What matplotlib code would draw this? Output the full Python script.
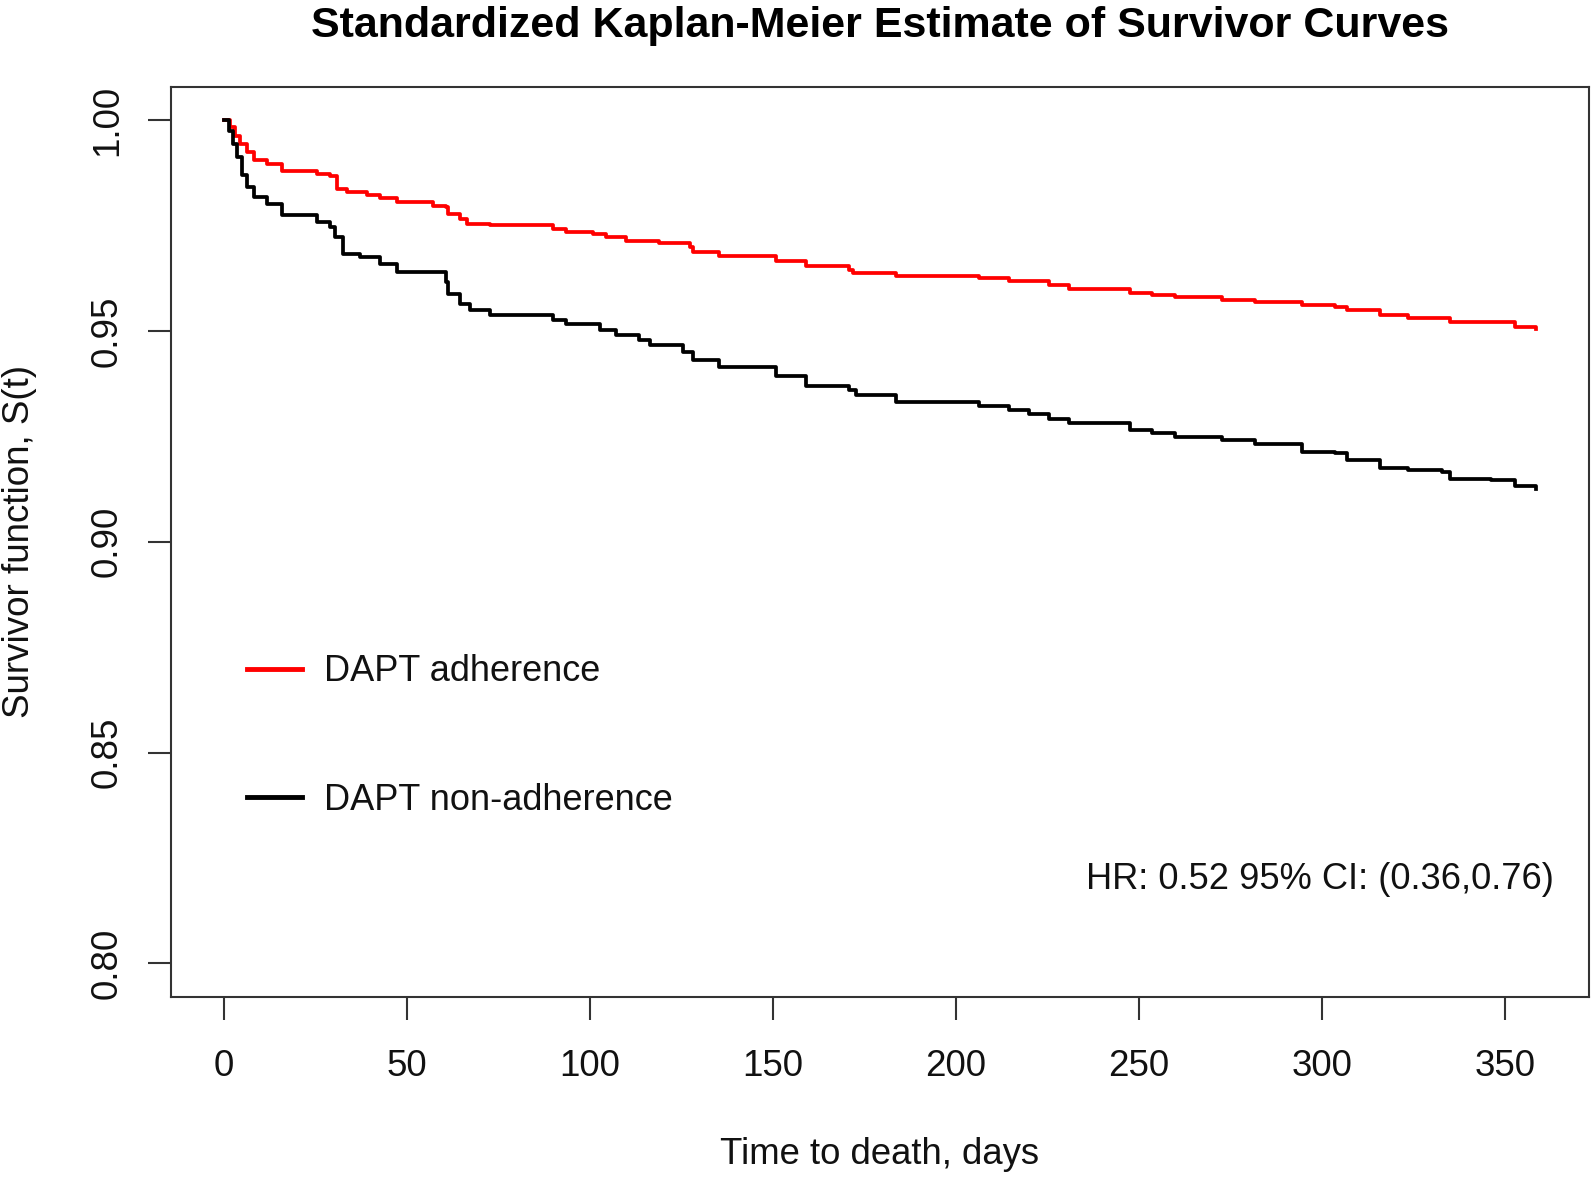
import matplotlib
matplotlib.use("Agg")
import matplotlib.pyplot as plt

plt.rcParams['font.family'] = ['Liberation Sans', 'DejaVu Sans']

# ---- data ----
adh_time = [0, 1.8, 3.2, 4.5, 6.4, 8.2, 11.8, 15.9, 25.5, 29.1, 30.9, 33.6, 39.1, 42.7,
            47.3, 57.3, 60.9, 61.4, 64.5, 66.4, 72.7, 90, 93.6, 100.9, 104.5, 110, 119,
            127.3, 128.2, 135.4, 150.9, 159.1, 170.9, 171.8, 183.6, 206.4, 214.5, 225.4,
            230.9, 247.7, 253.6, 260, 272.7, 281.8, 294.5, 303.6, 306.8, 315.9, 323.6,
            335, 352.7, 358.6]
adh_surv = [1.0, 0.9984, 0.9964, 0.9945, 0.9925, 0.9907, 0.9897, 0.9881, 0.9872, 0.9867,
            0.9838, 0.9830, 0.9822, 0.9817, 0.9806, 0.9798, 0.9794, 0.9778, 0.9767, 0.9755,
            0.9751, 0.9743, 0.9735, 0.9731, 0.9723, 0.9715, 0.9708, 0.9700, 0.9688, 0.9678,
            0.9666, 0.9654, 0.9646, 0.9638, 0.9630, 0.9625, 0.9620, 0.9609, 0.9600, 0.9590,
            0.9585, 0.9580, 0.9575, 0.9570, 0.9561, 0.9557, 0.9550, 0.9538, 0.9531, 0.9522,
            0.9510, 0.9506]

non_time = [0, 1.4, 2.7, 3.6, 5, 6.4, 8.2, 11.8, 15.9, 25.5, 29.1, 30.5, 32.7, 37.3, 42.7,
            47.3, 60.9, 61.4, 64.5, 67.3, 72.7, 90, 93.6, 102.7, 107.3, 113.6, 116.4, 125.4,
            128.2, 135.4, 150.9, 159.1, 170.9, 172.7, 183.6, 206.4, 214.5, 220, 225.4, 230.9,
            247.7, 253.6, 260, 272.7, 281.8, 294.5, 303.6, 306.8, 315.9, 323.6, 332.7, 335,
            346.3, 352.7, 358.6]
non_surv = [1.0, 0.9976, 0.9945, 0.9913, 0.9870, 0.9842, 0.9818, 0.9802, 0.9775, 0.9759,
            0.9747, 0.9723, 0.9684, 0.9676, 0.9660, 0.9640, 0.9617, 0.9589, 0.9565, 0.9550,
            0.9538, 0.9526, 0.9518, 0.9502, 0.9490, 0.9478, 0.9466, 0.9450, 0.9431, 0.9415,
            0.9393, 0.9369, 0.9360, 0.9348, 0.9332, 0.9322, 0.9314, 0.9304, 0.9292, 0.9282,
            0.9265, 0.9258, 0.9249, 0.9241, 0.9232, 0.9214, 0.9210, 0.9195, 0.9176, 0.9170,
            0.9166, 0.9150, 0.9146, 0.9132, 0.9126]

x_ticks = [0, 50, 100, 150, 200, 250, 300, 350]
y_ticks = [0.80, 0.85, 0.90, 0.95, 1.00]
labels = ["DAPT adherence", "DAPT non-adherence"]
colors = ["#ff0000", "#000000"]
title = "Standardized Kaplan-Meier Estimate of Survivor Curves"
hr_text = "HR: 0.52 95% CI: (0.36,0.76)"

# ---- figure ----
W, H = 1593, 1178
fig = plt.figure(figsize=(W / 100, H / 100), dpi=100)
L, R, T, B = 171, 1589, 86.7, 997
ax = fig.add_axes([L / W, 1 - B / H, (R - L) / W, (B - T) / H])

ax.step(adh_time, adh_surv, where='post', color=colors[0], lw=2.7, label=labels[0])
ax.step(non_time, non_surv, where='post', color=colors[1], lw=2.7, label=labels[1])

xmin, xmax = 0, 358.6
ymin, ymax = 0.80, 1.00
dx = (xmax - xmin) * 0.04
dy = (ymax - ymin) * 0.04
ax.set_xlim(xmin - dx, xmax + dx)
ax.set_ylim(ymin - dy, ymax + dy)

ax.set_xticks(x_ticks)
ax.set_xticklabels([str(v) for v in x_ticks])
ax.set_yticks(y_ticks)
ax.set_yticklabels([f"{v:.2f}" for v in y_ticks])

edge = "#333333"
for s in ax.spines.values():
    s.set_color(edge)
    s.set_linewidth(1.5)
ax.tick_params(direction='out', length=16.6, width=1.5, color=edge,
               labelsize=26.5, labelcolor="#111111")
ax.tick_params(axis='x', pad=21)
ax.tick_params(axis='y', pad=16.5, labelrotation=90)
for lab in ax.get_yticklabels():
    lab.set_va('center')
    lab.set_ha('right')

ax.set_xlabel("Time to death, days", fontsize=26.3, color="#111111", va='center')
ax.xaxis.set_label_coords(0.5, (B - 1155) / (B - T))
ax.set_ylabel("Survivor function, S(t)", fontsize=26.5, color="#111111", va='center')
ax.yaxis.set_label_coords((20 - L) / (R - L), 0.5)

fig.text((L + R) / 2 / W, 1 - 37 / H, title, ha='center', va='baseline',
         fontsize=31, fontweight='bold', color="#000000")

leg = ax.legend(loc='center left', bbox_to_anchor=((247 - L) / (R - L), (B - 736) / (B - T)),
                frameon=False, fontsize=26, handlelength=1.52, handletextpad=0.6,
                labelspacing=2.58, borderpad=0, borderaxespad=0)
for t in leg.get_texts():
    t.set_color("#111111")
for h in leg.get_lines():
    h.set_linewidth(3.5)

ax.text((1554 - L) / (R - L), (B - 889) / (B - T), hr_text, transform=ax.transAxes,
        ha='right', va='baseline', fontsize=26.1, color="#111111")

fig.savefig("out.png", dpi=100)
